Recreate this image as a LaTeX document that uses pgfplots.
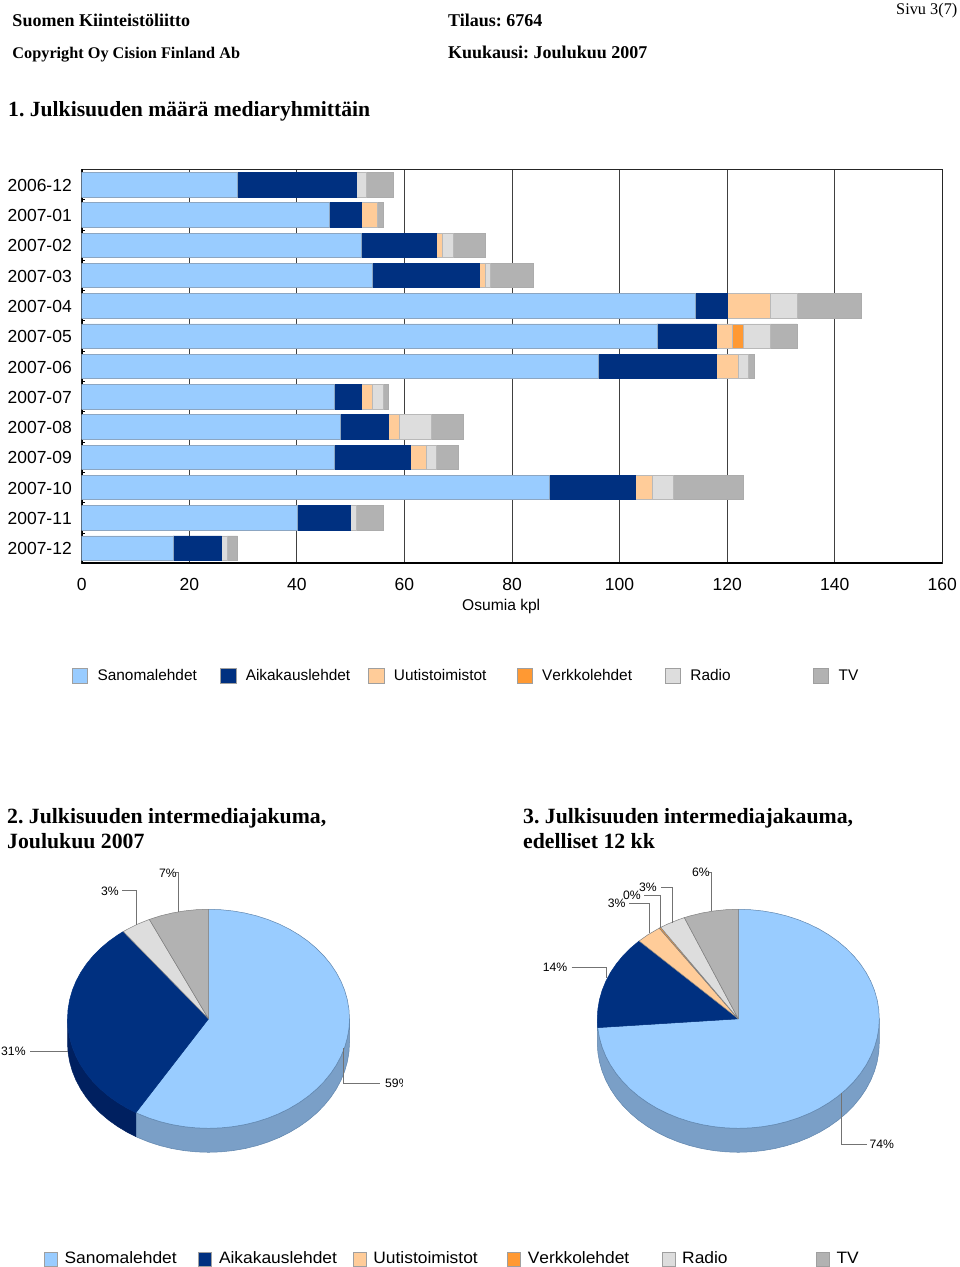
\documentclass[border=0pt]{standalone}
\usepackage{fontspec}
\setmainfont{Liberation Serif}
\setsansfont[Kerning=Off]{Liberation Sans}
\newfontfamily\widesans[FakeStretch=1.054,Kerning=Off]{Liberation Sans}
\usepackage{pgfplots}
\usepackage{pgfplotstable}
\pgfplotsset{compat=1.18}

\definecolor{sano}{HTML}{99CCFF}
\definecolor{aika}{HTML}{003080}
\definecolor{uuti}{HTML}{FFCC99}
\definecolor{verk}{HTML}{FF9933}
\definecolor{radi}{HTML}{DDDDDD}
\definecolor{tvtv}{HTML}{B2B2B2}
\definecolor{sanoside}{HTML}{7A9FC7}
\definecolor{aikaside}{HTML}{002060}
\definecolor{sanoedge}{HTML}{5F85AD}
\definecolor{baredge}{HTML}{8CA6C2}

% bars, number of clippings per month
\pgfplotstableread{
row san aik uut ver rad tv
0   29  22  0   0   2   5
1   46  6   3   0   0   1
2   52  14  1   0   2   6
3   54  20  1   0   1   8
4   114 6   8   0   5   12
5   107 11  3   2   5   5
6   96  22  4   0   2   1
7   47  5   2   0   2   1
8   48  9   2   0   6   6
9   47  14  3   0   2   4
10  87  16  3   0   4   13
11  40  10  0   0   1   5
12  17  9   0   0   1   2
}\bardata

\pgfplotsset{
  swatch/.style={legend image code/.code={\draw[##1,draw=gray!75,line width=.6pt] (0pt,-7.5pt) rectangle (15.5pt,7.5pt);}},
  swatchsmall/.style={legend image code/.code={\draw[##1,draw=gray!75,line width=.6pt] (0pt,-6.8pt) rectangle (13pt,6.8pt);}},
  pie/.style={scale only axis,hide axis,anchor=south west,width=282pt,height=243pt,
    xmin=-1,xmax=1,ymin=-1.2192,ymax=1,clip=false},
  wedge/.style={line width=.5pt,line join=round},
  leader/.style={draw=black!55,line width=.9pt,forget plot},
}

\begin{document}
\frenchspacing
\begin{tikzpicture}

% monthly bars
\begin{axis}[
    at={(81.7pt,703.7pt)},anchor=south west,scale only axis,
    width=860.6pt,height=393.8pt,
    xbar stacked,bar width=24.4pt,
    xmin=0,xmax=160,ymin=-0.5,ymax=12.5,y dir=reverse,
    xtick={0,20,...,160},
    ytick={0,...,12},
    yticklabels={2006-12,2007-01,2007-02,2007-03,2007-04,2007-05,2007-06,2007-07,2007-08,2007-09,2007-10,2007-11,2007-12},
    minor ytick={-0.5,0.5,...,12.5},
    major tick length=0pt,minor tick length=3pt,
    tick align=inside,tick pos=left,
    xmajorgrids,
    grid style={black!75,line width=1pt},
    minor tick style={black,line width=1pt},
    axis line style={black!85,line width=1pt},
    /pgf/number format/assume math mode=true,
    every tick label/.append style={inner sep=0pt,font=\sffamily\fontsize{17.5}{20}\selectfont},
    xticklabel style={anchor=north,yshift=-14.5pt},
    yticklabel style={anchor=east,xshift=-9.7pt,yshift=-.6pt},
    legend columns=6,
    legend style={at={(axis description cs:-0.01127,-0.2849)},anchor=west,draw=none,fill=none,
      inner sep=0pt,outer sep=0pt,font=\sffamily\fontsize{15.4}{18}\selectfont,
      nodes={inner xsep=0pt,inner ysep=0pt,text width=122.6pt,text height=1.12em,text depth=.2em,align=left},
      /tikz/every odd column/.append style={column sep=9.5pt}},
  ]
  \addplot[fill=sano,draw=baredge,line width=.6pt,swatch] table[x=san,y=row] {\bardata};
  \addlegendentry{Sanomalehdet}
  \addplot[fill=aika,draw=aika,line width=.6pt,swatch] table[x=aik,y=row] {\bardata};
  \addlegendentry{Aikakauslehdet}
  \addplot[fill=uuti,draw=gray!55,line width=.6pt,swatch] table[x=uut,y=row] {\bardata};
  \addlegendentry{Uutistoimistot}
  \addplot[fill=verk,draw=gray!55,line width=.6pt,swatch] table[x=ver,y=row] {\bardata};
  \addlegendentry{Verkkolehdet}
  \addplot[fill=radi,draw=gray!55,line width=.6pt,swatch] table[x=rad,y=row] {\bardata};
  \addlegendentry{Radio}
  \addplot[fill=tvtv,draw=gray!65,line width=.6pt,swatch] table[x=tv,y=row] {\bardata};
  \addlegendentry{TV}
  \draw[black,line width=1.7pt] (axis cs:0,-0.5)--(axis cs:0,12.5)--(axis cs:160,12.5);
\end{axis}

% pie 2, Joulukuu 2007: 59 31 3 7 percent
\begin{axis}[pie,at={(67.5pt,114.7pt)}]
  \addplot[fill=sanoside,draw=sanoedge,wedge] coordinates {
    (1,0)(.9962,-.0872)(.9848,-.1736)(.9659,-.2588)(.9397,-.3420)(.9063,-.4226)(.8660,-.5)(.8192,-.5736)(.7660,-.6428)(.7071,-.7071)(.6428,-.7660)(.5736,-.8192)(.5,-.8660)(.4226,-.9063)(.3420,-.9397)(.2588,-.9659)(.1736,-.9848)(.0872,-.9962)(0,-1)
    (-.0872,-.9962)(-.1736,-.9848)(-.2588,-.9659)(-.3420,-.9397)(-.4226,-.9063)(-.5,-.8660)(-.5150,-.8572)
    (-.5150,-1.0764)(-.5,-1.0852)(-.4226,-1.1255)(-.3420,-1.1589)(-.2588,-1.1851)(-.1736,-1.2040)(-.0872,-1.2154)(0,-1.2192)
    (.0872,-1.2154)(.1736,-1.2040)(.2588,-1.1851)(.3420,-1.1589)(.4226,-1.1255)(.5,-1.0852)(.5736,-1.0384)(.6428,-.9852)(.7071,-.9263)(.7660,-.8620)(.8192,-.7928)(.8660,-.7192)(.9063,-.6418)(.9397,-.5612)(.9659,-.4780)(.9848,-.3928)(.9962,-.3064)(1,-.2192)(1,0)};
  \addplot[fill=aikaside,draw=aikaside,wedge] coordinates {
    (-.5150,-.8572)(-.5736,-.8192)(-.6428,-.7660)(-.7071,-.7071)(-.7660,-.6428)(-.8192,-.5736)(-.8660,-.5)(-.9063,-.4226)(-.9397,-.3420)(-.9659,-.2588)(-.9848,-.1736)(-.9962,-.0872)(-1,0)
    (-1,-.2192)(-.9962,-.3064)(-.9848,-.3928)(-.9659,-.4780)(-.9397,-.5612)(-.9063,-.6418)(-.8660,-.7192)(-.8192,-.7928)(-.7660,-.8620)(-.7071,-.9263)(-.6428,-.9852)(-.5736,-1.0384)(-.5150,-1.0764)(-.5150,-.8572)};
  \addplot[fill=sano,draw=sanoedge,wedge] coordinates {
    (0,0)(0,1)(.0872,.9962)(.1736,.9848)(.2588,.9659)(.3420,.9397)(.4226,.9063)(.5,.8660)(.5736,.8192)(.6428,.7660)(.7071,.7071)(.7660,.6428)(.8192,.5736)(.8660,.5)(.9063,.4226)(.9397,.3420)(.9659,.2588)(.9848,.1736)(.9962,.0872)(1,0)
    (.9962,-.0872)(.9848,-.1736)(.9659,-.2588)(.9397,-.3420)(.9063,-.4226)(.8660,-.5)(.8192,-.5736)(.7660,-.6428)(.7071,-.7071)(.6428,-.7660)(.5736,-.8192)(.5,-.8660)(.4226,-.9063)(.3420,-.9397)(.2588,-.9659)(.1736,-.9848)(.0872,-.9962)(0,-1)
    (-.0872,-.9962)(-.1736,-.9848)(-.2588,-.9659)(-.3420,-.9397)(-.4226,-.9063)(-.5,-.8660)(-.5150,-.8572)(0,0)};
  \addplot[fill=aika,draw=aika,wedge] coordinates {
    (0,0)(-.5150,-.8572)(-.5736,-.8192)(-.6428,-.7660)(-.7071,-.7071)(-.7660,-.6428)(-.8192,-.5736)(-.8660,-.5)(-.9063,-.4226)(-.9397,-.3420)(-.9659,-.2588)(-.9848,-.1736)(-.9962,-.0872)(-1,0)
    (-.9962,.0872)(-.9848,.1736)(-.9659,.2588)(-.9397,.3420)(-.9063,.4226)(-.8660,.5)(-.8192,.5736)(-.7660,.6428)(-.7071,.7071)(-.6428,.7660)(-.6046,.7965)(0,0)};
  \addplot[fill=radi,draw=gray,wedge] coordinates {
    (0,0)(-.6046,.7965)(-.5736,.8192)(-.5,.8660)(-.4195,.9078)(0,0)};
  \addplot[fill=tvtv,draw=gray,wedge] coordinates {
    (0,0)(-.4195,.9078)(-.3420,.9397)(-.2588,.9659)(-.1736,.9848)(-.0872,.9962)(0,1)(0,0)};
\end{axis}

% pie 3, edelliset 12 kk: 74 14 3 0 3 6 percent
\begin{axis}[pie,at={(597.3pt,114.7pt)}]
  \addplot[fill=sanoside,draw=sanoedge,wedge] coordinates {
    (1,0)(.9962,-.0872)(.9848,-.1736)(.9659,-.2588)(.9397,-.3420)(.9063,-.4226)(.8660,-.5)(.8192,-.5736)(.7660,-.6428)(.7071,-.7071)(.6428,-.7660)(.5736,-.8192)(.5,-.8660)(.4226,-.9063)(.3420,-.9397)(.2588,-.9659)(.1736,-.9848)(.0872,-.9962)(0,-1)
    (-.0872,-.9962)(-.1736,-.9848)(-.2588,-.9659)(-.3420,-.9397)(-.4226,-.9063)(-.5,-.8660)(-.5736,-.8192)(-.6428,-.7660)(-.7071,-.7071)(-.7660,-.6428)(-.8192,-.5736)(-.8660,-.5)(-.9063,-.4226)(-.9397,-.3420)(-.9659,-.2588)(-.9848,-.1736)(-.9962,-.0872)(-1,0)
    (-1,-.2192)(-.9962,-.3064)(-.9848,-.3928)(-.9659,-.4780)(-.9397,-.5612)(-.9063,-.6418)(-.8660,-.7192)(-.8192,-.7928)(-.7660,-.8620)(-.7071,-.9263)(-.6428,-.9852)(-.5736,-1.0384)(-.5,-1.0852)(-.4226,-1.1255)(-.3420,-1.1589)(-.2588,-1.1851)(-.1736,-1.2040)(-.0872,-1.2154)(0,-1.2192)
    (.0872,-1.2154)(.1736,-1.2040)(.2588,-1.1851)(.3420,-1.1589)(.4226,-1.1255)(.5,-1.0852)(.5736,-1.0384)(.6428,-.9852)(.7071,-.9263)(.7660,-.8620)(.8192,-.7928)(.8660,-.7192)(.9063,-.6418)(.9397,-.5612)(.9659,-.4780)(.9848,-.3928)(.9962,-.3064)(1,-.2192)(1,0)};
  \addplot[fill=sano,draw=sanoedge,wedge] coordinates {
    (0,0)(0,1)(.0872,.9962)(.1736,.9848)(.2588,.9659)(.3420,.9397)(.4226,.9063)(.5,.8660)(.5736,.8192)(.6428,.7660)(.7071,.7071)(.7660,.6428)(.8192,.5736)(.8660,.5)(.9063,.4226)(.9397,.3420)(.9659,.2588)(.9848,.1736)(.9962,.0872)(1,0)
    (.9962,-.0872)(.9848,-.1736)(.9659,-.2588)(.9397,-.3420)(.9063,-.4226)(.8660,-.5)(.8192,-.5736)(.7660,-.6428)(.7071,-.7071)(.6428,-.7660)(.5736,-.8192)(.5,-.8660)(.4226,-.9063)(.3420,-.9397)(.2588,-.9659)(.1736,-.9848)(.0872,-.9962)(0,-1)
    (-.0872,-.9962)(-.1736,-.9848)(-.2588,-.9659)(-.3420,-.9397)(-.4226,-.9063)(-.5,-.8660)(-.5736,-.8192)(-.6428,-.7660)(-.7071,-.7071)(-.7660,-.6428)(-.8192,-.5736)(-.8660,-.5)(-.9063,-.4226)(-.9397,-.3420)(-.9659,-.2588)(-.9848,-.1736)(-.9968,-.0802)(0,0)};
  \addplot[fill=aika,draw=aika,wedge] coordinates {
    (0,0)(-.9968,-.0802)(-1,0)(-.9962,.0872)(-.9848,.1736)(-.9659,.2588)(-.9397,.3420)(-.9063,.4226)(-.8660,.5)(-.8192,.5736)(-.7660,.6428)(-.7071,.7071)(-.7034,.7108)(0,0)};
  \addplot[fill=uuti,draw=gray,wedge] coordinates {
    (0,0)(-.7034,.7108)(-.6428,.7660)(-.5606,.8281)(0,0)};
  \addplot[fill=verk,draw=gray,wedge] coordinates {
    (0,0)(-.5606,.8281)(-.5505,.8348)(0,0)};
  \addplot[fill=radi,draw=gray,wedge] coordinates {
    (0,0)(-.5505,.8348)(-.5,.8660)(-.4226,.9063)(-.3827,.9239)(0,0)};
  \addplot[fill=tvtv,draw=gray,wedge] coordinates {
    (0,0)(-.3827,.9239)(-.3420,.9397)(-.2588,.9659)(-.1736,.9848)(-.0872,.9962)(0,1)(0,0)};
\end{axis}

% whole page in pixel units: headings, pie labels and their leaders, lower legend
\begin{axis}[
    at={(0pt,0pt)},anchor=south west,scale only axis,hide axis,
    width=960pt,height=1267pt,xmin=0,xmax=960,ymin=0,ymax=1267,y dir=reverse,clip=false,
    legend columns=6,
    legend style={at={(axis description cs:0.04583,0.00631)},anchor=west,draw=none,fill=none,
      inner sep=0pt,outer sep=0pt,font=\widesans\fontsize{16.5}{18}\selectfont,
      nodes={inner xsep=0pt,inner ysep=0pt,text width=133.8pt,text height=1.16em,text depth=.2em,align=left},
      /tikz/every odd column/.append style={column sep=7pt}},
  ]
  \addplot[leader] coordinates {(178.3,911.7)(178.3,872.7)(175.7,872.7)};
  \addplot[leader] coordinates {(122.3,890.7)(136,890.7)(136,925)};
  \addplot[leader] coordinates {(30,1051)(68,1051)};
  \addplot[leader] coordinates {(343.7,1048)(343.7,1083)(380,1083)};
  \addplot[leader] coordinates {(711,911)(711,872)(709.3,872)};
  \addplot[leader] coordinates {(661,887)(672.7,887)(672.7,922.7)};
  \addplot[leader] coordinates {(644.3,895)(660.3,895)(660.3,928.3)};
  \addplot[leader] coordinates {(629.3,903.7)(649.3,903.7)(649.3,933.3)};
  \addplot[leader] coordinates {(571.7,967.3)(606.7,967.3)(606.7,978.3)};
  \addplot[leader] coordinates {(841.7,1093.3)(841.7,1144.3)(866.7,1144.3)};

  \addlegendimage{swatchsmall,fill=sano}\addlegendentry{Sanomalehdet}
  \addlegendimage{swatchsmall,fill=aika}\addlegendentry{Aikakauslehdet}
  \addlegendimage{swatchsmall,fill=uuti}\addlegendentry{Uutistoimistot}
  \addlegendimage{swatchsmall,fill=verk}\addlegendentry{Verkkolehdet}
  \addlegendimage{swatchsmall,fill=radi}\addlegendentry{Radio}
  \addlegendimage{swatchsmall,fill=tvtv}\addlegendentry{TV}

  \begin{scope}[every node/.style={anchor=base west,inner sep=0pt}]
    \node[font=\bfseries\fontsize{18}{20}\selectfont] at (axis cs:12.3,26) {Suomen Kiinteistöliitto};
    \node[font=\bfseries\fontsize{16.25}{20}\selectfont] at (axis cs:12.3,58) {Copyright Oy Cision Finland Ab};
    \node[font=\bfseries\fontsize{18}{20}\selectfont] at (axis cs:448,26) {Tilaus: 6764};
    \node[font=\bfseries\fontsize{18}{20}\selectfont] at (axis cs:448,58.5) {Kuukausi: Joulukuu 2007};
    \node[font=\fontsize{16.3}{20}\selectfont] at (axis cs:896,14) {Sivu 3(7)};
    \node[font=\bfseries\fontsize{21.65}{24}\selectfont] at (axis cs:8,116.7) {1. Julkisuuden määrä mediaryhmittäin};
    \node[font=\bfseries\fontsize{21.75}{24}\selectfont] at (axis cs:7,823.3) {2. Julkisuuden intermediajakuma,};
    \node[font=\bfseries\fontsize{21.75}{24}\selectfont] at (axis cs:7,848.3) {Joulukuu 2007};
    \node[font=\bfseries\fontsize{21.75}{24}\selectfont] at (axis cs:523,823.3) {3. Julkisuuden intermediajakauma,};
    \node[font=\bfseries\fontsize{21.75}{24}\selectfont] at (axis cs:523,848.3) {edelliset 12 kk};
    \node[font=\sffamily\fontsize{15.6}{18}\selectfont] at (axis cs:462,610.5) {Osumia kpl};
  \end{scope}

  \begin{scope}[every node/.style={anchor=west,inner sep=0pt,font=\sffamily\fontsize{12.2}{14}\selectfont}]
    \node at (axis cs:159,873) {7\%};
    \node at (axis cs:101,891) {3\%};
    \node at (axis cs:1,1051) {31\%};
    \node at (axis cs:385,1083) {59\%};
    \node at (axis cs:692,872) {6\%};
    \node at (axis cs:639,887) {3\%};
    \node at (axis cs:623,895) {0\%};
    \node at (axis cs:607.7,903.7) {3\%};
    \node at (axis cs:542.7,967.3) {14\%};
    \node at (axis cs:869.3,1144.3) {74\%};
  \end{scope}
  % the 59% label is cut off in the source
  \fill[white] (axis cs:402.8,1072) rectangle (axis cs:412,1094);
\end{axis}

\pgfresetboundingbox
\path (0pt,0pt) rectangle (960pt,1267pt);
\end{tikzpicture}
\end{document}
